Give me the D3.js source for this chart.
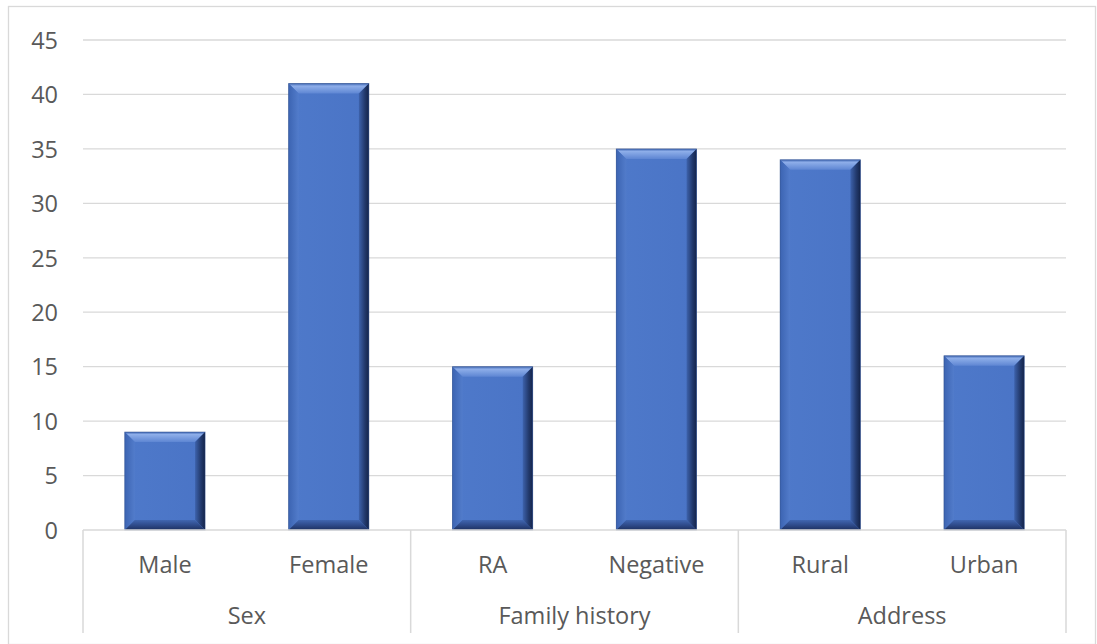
<!DOCTYPE html>
<html>
<head>
<meta charset="utf-8">
<script src="https://cdn.jsdelivr.net/npm/d3@7"></script>
<style>
  html, body { margin: 0; padding: 0; background: #fff; }
  svg { display: block; font-family: "Open Sans", "Noto Sans", "Liberation Sans", sans-serif; }
</style>
</head>
<body>
<svg id="chart" width="1097" height="644"></svg>
<script>
// Patient characteristics: counts by category
const groups = ["Sex", "Family history", "Address"];
const categories = ["Male", "Female", "RA", "Negative", "Rural", "Urban"];
const categoryGroup = ["Sex", "Sex", "Family history", "Family history", "Address", "Address"];
const values = [9, 41, 15, 35, 34, 16];
const yTicks = [0, 5, 10, 15, 20, 25, 30, 35, 40, 45];

const svg = d3.select("#chart");
const W = 1097, H = 644;
const plot = { left: 83, right: 1066, top: 40, bottom: 530 };
const fontSize = "23.5px";
const textColor = "#595959";

// outer chart frame
svg.append("rect")
  .attr("x", 8.5).attr("y", 6.5)
  .attr("width", W - 10).attr("height", H - 6)
  .attr("fill", "#fff").attr("stroke", "#d9d9d9").attr("stroke-width", 1.3);

const x = d3.scaleBand().domain(categories).range([plot.left, plot.right]).paddingInner(0.51).paddingOuter(0.255);
const xStep = d3.scaleBand().domain(categories).range([plot.left, plot.right]);
const y = d3.scaleLinear().domain([0, 45]).range([plot.bottom, plot.top]);

// gridlines
svg.append("g").selectAll("line").data(yTicks.filter(t => t > 0)).join("line")
  .attr("x1", plot.left).attr("x2", plot.right)
  .attr("y1", d => y(d)).attr("y2", d => y(d))
  .attr("stroke", "#d9d9d9").attr("stroke-width", 1.3);

// y axis labels
const yAxis = d3.axisLeft(y).tickValues(yTicks).tickSize(0).tickPadding(0);
const gy = svg.append("g").attr("transform", `translate(${plot.left - 25},0)`).call(yAxis);
gy.select(".domain").remove();
gy.selectAll("text").attr("fill", textColor).style("font-size", fontSize)
  .style("font-family", "'Open Sans', sans-serif").attr("dy", "0.35em");

// gradients for beveled bars
const defs = svg.append("defs");
function grad(id, x1, y1, x2, y2, stops) {
  const g = defs.append("linearGradient").attr("id", id)
    .attr("x1", x1).attr("y1", y1).attr("x2", x2).attr("y2", y2);
  stops.forEach(s => g.append("stop").attr("offset", s[0]).attr("stop-color", s[1]));
}
grad("bTop", 0, 0, 0, 1, [[0, "#3f66b2"], [0.25, "#8eaee9"], [1, "#5e86d3"]]);
grad("bRight", 0, 0, 1, 0, [[0, "#3d62ac"], [0.6, "#22396c"], [1, "#14244a"]]);
grad("bBottom", 0, 0, 0, 1, [[0, "#4066b0"], [0.6, "#2b4683"], [1, "#1d3160"]]);
grad("bLeft", 0, 0, 1, 0, [[0, "#3c64b2"], [1, "#527ccb"]]);
grad("bFace", 0, 0, 1, 0, [[0, "#4e79ca"], [1, "#4a74c6"]]);

const bev = 10;
const bars = svg.append("g").selectAll("g").data(categories.map((c, i) => ({ c, v: values[i] }))).join("g");
bars.each(function (d) {
  const g = d3.select(this);
  const x0 = x(d.c), x1 = x0 + x.bandwidth();
  const y0 = y(d.v), y1 = y(0);
  const b = Math.min(bev, (y1 - y0) / 2);
  g.append("rect").attr("x", x0).attr("y", y0).attr("width", x1 - x0).attr("height", y1 - y0).attr("fill", "url(#bFace)");
  const poly = (pts, fill) => g.append("polygon").attr("points", pts.map(p => p.join(",")).join(" ")).attr("fill", fill);
  poly([[x0, y0], [x1, y0], [x1 - b, y0 + b], [x0 + b, y0 + b]], "url(#bTop)");
  poly([[x0, y0], [x0 + b, y0 + b], [x0 + b, y1 - b], [x0, y1]], "url(#bLeft)");
  poly([[x1, y0], [x1, y1], [x1 - b, y1 - b], [x1 - b, y0 + b]], "url(#bRight)");
  poly([[x0, y1], [x0 + b, y1 - b], [x1 - b, y1 - b], [x1, y1]], "url(#bBottom)");
  g.append("rect").attr("x", x0).attr("y", y0).attr("width", x1 - x0).attr("height", y1 - y0)
    .attr("fill", "none").attr("stroke", "#2c4a86").attr("stroke-width", 0.8).attr("stroke-opacity", 0.6);
});

// category axis: baseline, group separators
const axisColor = "#d9d9d9";
svg.append("line").attr("x1", plot.left).attr("x2", plot.right)
  .attr("y1", plot.bottom).attr("y2", plot.bottom)
  .attr("stroke", axisColor).attr("stroke-width", 1.5);

const groupBounds = groups.map(gname => {
  const cats = categories.filter((c, i) => categoryGroup[i] === gname);
  const start = xStep(cats[0]);
  const end = xStep(cats[cats.length - 1]) + xStep.bandwidth();
  return { gname, start, end };
});
const sepX = [plot.left, ...groupBounds.map(g => g.end)];
svg.append("g").selectAll("line").data(sepX).join("line")
  .attr("x1", d => d).attr("x2", d => d)
  .attr("y1", plot.bottom).attr("y2", 633)
  .attr("stroke", axisColor).attr("stroke-width", 1.5);

// category labels
svg.append("g").selectAll("text").data(categories).join("text")
  .attr("x", d => xStep(d) + xStep.bandwidth() / 2)
  .attr("y", 565).attr("dy", "0.35em")
  .attr("text-anchor", "middle").attr("fill", textColor).style("font-size", fontSize)
  .text(d => d);

// group labels
svg.append("g").selectAll("text").data(groupBounds).join("text")
  .attr("x", d => (d.start + d.end) / 2)
  .attr("y", 616).attr("dy", "0.35em")
  .attr("text-anchor", "middle").attr("fill", textColor).style("font-size", fontSize)
  .text(d => d.gname);
</script>
</body>
</html>
